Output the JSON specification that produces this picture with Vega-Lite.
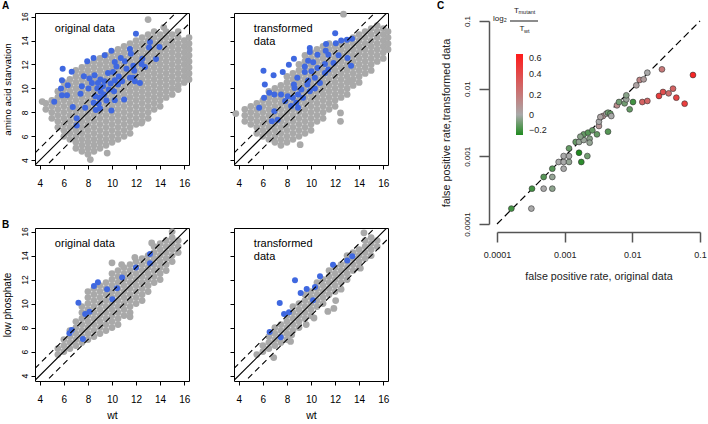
{
"$schema":"https://vega.github.io/schema/vega-lite/v6.json",
"background":"white",
"padding":{"left":1,"top":0,"right":0,"bottom":0},
"config":{
"font":"Liberation Sans",
"view":{"stroke":"black","strokeWidth":1},
"axis":{"domain":false,"grid":false,"tickColor":"black","tickWidth":1,"labelColor":"black","titleColor":"black","titleFontWeight":"normal","labelFlush":false,"labelOverlap":false},
"title":{"fontSize":10,"fontWeight":"bold","anchor":"start","frame":"group","color":"black","baseline":"bottom","offset":0}
},
"datasets":{
"a1g":[
{"x":4.5,"y":8.25},{"x":4.5,"y":8.75},
{"x":5,"y":7.5},{"x":5,"y":8},{"x":5,"y":8.5},{"x":5,"y":9},
{"x":5.5,"y":6.75},{"x":5.5,"y":7.25},{"x":5.5,"y":7.75},{"x":5.5,"y":8.25},{"x":5.5,"y":8.75},{"x":5.5,"y":9.25},{"x":5.5,"y":9.75},
{"x":6,"y":6},{"x":6,"y":6.5},{"x":6,"y":7},{"x":6,"y":7.5},{"x":6,"y":8},{"x":6,"y":8.5},{"x":6,"y":9},{"x":6,"y":9.5},{"x":6,"y":10},{"x":6,"y":10.5},
{"x":6.5,"y":5.75},{"x":6.5,"y":6.25},{"x":6.5,"y":6.75},{"x":6.5,"y":7.25},{"x":6.5,"y":7.75},{"x":6.5,"y":8.25},{"x":6.5,"y":8.75},{"x":6.5,"y":9.25},{"x":6.5,"y":9.75},{"x":6.5,"y":10.25},{"x":6.5,"y":10.75},
{"x":7,"y":5},{"x":7,"y":5.5},{"x":7,"y":6},{"x":7,"y":6.5},{"x":7,"y":7},{"x":7,"y":7.5},{"x":7,"y":8},{"x":7,"y":8.5},{"x":7,"y":9},{"x":7,"y":9.5},{"x":7,"y":10},{"x":7,"y":10.5},{"x":7,"y":11},{"x":7,"y":11.5},
{"x":7.5,"y":4.75},{"x":7.5,"y":5.25},{"x":7.5,"y":5.75},{"x":7.5,"y":6.25},{"x":7.5,"y":6.75},{"x":7.5,"y":7.25},{"x":7.5,"y":7.75},{"x":7.5,"y":8.25},{"x":7.5,"y":8.75},{"x":7.5,"y":9.25},{"x":7.5,"y":9.75},{"x":7.5,"y":10.25},{"x":7.5,"y":10.75},{"x":7.5,"y":11.25},{"x":7.5,"y":11.75},
{"x":8,"y":4.5},{"x":8,"y":5},{"x":8,"y":5.5},{"x":8,"y":6},{"x":8,"y":6.5},{"x":8,"y":7},{"x":8,"y":7.5},{"x":8,"y":8},{"x":8,"y":8.5},{"x":8,"y":9},{"x":8,"y":9.5},{"x":8,"y":10},{"x":8,"y":10.5},{"x":8,"y":11},{"x":8,"y":11.5},{"x":8,"y":12},
{"x":8.5,"y":4.75},{"x":8.5,"y":5.25},{"x":8.5,"y":5.75},{"x":8.5,"y":6.25},{"x":8.5,"y":6.75},{"x":8.5,"y":7.25},{"x":8.5,"y":7.75},{"x":8.5,"y":8.25},{"x":8.5,"y":8.75},{"x":8.5,"y":9.25},{"x":8.5,"y":9.75},{"x":8.5,"y":10.25},{"x":8.5,"y":10.75},{"x":8.5,"y":11.25},{"x":8.5,"y":11.75},{"x":8.5,"y":12.25},
{"x":9,"y":5},{"x":9,"y":5.5},{"x":9,"y":6},{"x":9,"y":6.5},{"x":9,"y":7},{"x":9,"y":7.5},{"x":9,"y":8},{"x":9,"y":8.5},{"x":9,"y":9},{"x":9,"y":9.5},{"x":9,"y":10},{"x":9,"y":10.5},{"x":9,"y":11},{"x":9,"y":11.5},{"x":9,"y":12},{"x":9,"y":12.5},
{"x":9.5,"y":5.25},{"x":9.5,"y":5.75},{"x":9.5,"y":6.25},{"x":9.5,"y":6.75},{"x":9.5,"y":7.25},{"x":9.5,"y":7.75},{"x":9.5,"y":8.25},{"x":9.5,"y":8.75},{"x":9.5,"y":9.25},{"x":9.5,"y":9.75},{"x":9.5,"y":10.25},{"x":9.5,"y":10.75},{"x":9.5,"y":11.25},{"x":9.5,"y":11.75},{"x":9.5,"y":12.25},{"x":9.5,"y":12.75},
{"x":10,"y":5.5},{"x":10,"y":6},{"x":10,"y":6.5},{"x":10,"y":7},{"x":10,"y":7.5},{"x":10,"y":8},{"x":10,"y":8.5},{"x":10,"y":9},{"x":10,"y":9.5},{"x":10,"y":10},{"x":10,"y":10.5},{"x":10,"y":11},{"x":10,"y":11.5},{"x":10,"y":12},{"x":10,"y":12.5},{"x":10,"y":13},
{"x":10.5,"y":5.75},{"x":10.5,"y":6.25},{"x":10.5,"y":6.75},{"x":10.5,"y":7.25},{"x":10.5,"y":7.75},{"x":10.5,"y":8.25},{"x":10.5,"y":8.75},{"x":10.5,"y":9.25},{"x":10.5,"y":9.75},{"x":10.5,"y":10.25},{"x":10.5,"y":10.75},{"x":10.5,"y":11.25},{"x":10.5,"y":11.75},{"x":10.5,"y":12.25},{"x":10.5,"y":12.75},{"x":10.5,"y":13.25},
{"x":11,"y":6},{"x":11,"y":6.5},{"x":11,"y":7},{"x":11,"y":7.5},{"x":11,"y":8},{"x":11,"y":8.5},{"x":11,"y":9},{"x":11,"y":9.5},{"x":11,"y":10},{"x":11,"y":10.5},{"x":11,"y":11},{"x":11,"y":11.5},{"x":11,"y":12},{"x":11,"y":12.5},{"x":11,"y":13},{"x":11,"y":13.5},
{"x":11.5,"y":6.25},{"x":11.5,"y":6.75},{"x":11.5,"y":7.25},{"x":11.5,"y":7.75},{"x":11.5,"y":8.25},{"x":11.5,"y":8.75},{"x":11.5,"y":9.25},{"x":11.5,"y":9.75},{"x":11.5,"y":10.25},{"x":11.5,"y":10.75},{"x":11.5,"y":11.25},{"x":11.5,"y":11.75},{"x":11.5,"y":12.25},{"x":11.5,"y":12.75},{"x":11.5,"y":13.25},{"x":11.5,"y":13.75},
{"x":12,"y":7},{"x":12,"y":7.5},{"x":12,"y":8},{"x":12,"y":8.5},{"x":12,"y":9},{"x":12,"y":9.5},{"x":12,"y":10},{"x":12,"y":10.5},{"x":12,"y":11},{"x":12,"y":11.5},{"x":12,"y":12},{"x":12,"y":12.5},{"x":12,"y":13},{"x":12,"y":13.5},{"x":12,"y":14},
{"x":12.5,"y":7.25},{"x":12.5,"y":7.75},{"x":12.5,"y":8.25},{"x":12.5,"y":8.75},{"x":12.5,"y":9.25},{"x":12.5,"y":9.75},{"x":12.5,"y":10.25},{"x":12.5,"y":10.75},{"x":12.5,"y":11.25},{"x":12.5,"y":11.75},{"x":12.5,"y":12.25},{"x":12.5,"y":12.75},{"x":12.5,"y":13.25},{"x":12.5,"y":13.75},{"x":12.5,"y":14.25},
{"x":13,"y":7.5},{"x":13,"y":8},{"x":13,"y":8.5},{"x":13,"y":9},{"x":13,"y":9.5},{"x":13,"y":10},{"x":13,"y":10.5},{"x":13,"y":11},{"x":13,"y":11.5},{"x":13,"y":12},{"x":13,"y":12.5},{"x":13,"y":13},{"x":13,"y":13.5},{"x":13,"y":14},{"x":13,"y":14.5},
{"x":13.5,"y":8.25},{"x":13.5,"y":8.75},{"x":13.5,"y":9.25},{"x":13.5,"y":9.75},{"x":13.5,"y":10.25},{"x":13.5,"y":10.75},{"x":13.5,"y":11.25},{"x":13.5,"y":11.75},{"x":13.5,"y":12.25},{"x":13.5,"y":12.75},{"x":13.5,"y":13.25},{"x":13.5,"y":13.75},{"x":13.5,"y":14.25},{"x":13.5,"y":14.75},
{"x":14,"y":8.5},{"x":14,"y":9},{"x":14,"y":9.5},{"x":14,"y":10},{"x":14,"y":10.5},{"x":14,"y":11},{"x":14,"y":11.5},{"x":14,"y":12},{"x":14,"y":12.5},{"x":14,"y":13},{"x":14,"y":13.5},{"x":14,"y":14},{"x":14,"y":14.5},
{"x":14.5,"y":9.25},{"x":14.5,"y":9.75},{"x":14.5,"y":10.25},{"x":14.5,"y":10.75},{"x":14.5,"y":11.25},{"x":14.5,"y":11.75},{"x":14.5,"y":12.25},{"x":14.5,"y":12.75},{"x":14.5,"y":13.25},{"x":14.5,"y":13.75},{"x":14.5,"y":14.25},{"x":14.5,"y":14.75},
{"x":15,"y":9.5},{"x":15,"y":10},{"x":15,"y":10.5},{"x":15,"y":11},{"x":15,"y":11.5},{"x":15,"y":12},{"x":15,"y":12.5},{"x":15,"y":13},{"x":15,"y":13.5},{"x":15,"y":14},{"x":15,"y":14.5},
{"x":15.5,"y":10.25},{"x":15.5,"y":10.75},{"x":15.5,"y":11.25},{"x":15.5,"y":11.75},{"x":15.5,"y":12.25},{"x":15.5,"y":12.75},{"x":15.5,"y":13.25},{"x":15.5,"y":13.75},{"x":15.5,"y":14.25},{"x":15.5,"y":14.75},
{"x":16,"y":10.5},{"x":16,"y":11},{"x":16,"y":11.5},{"x":16,"y":12},{"x":16,"y":12.5},{"x":16,"y":13},{"x":16,"y":13.5},{"x":16,"y":14},
{"x":16.4,"y":10.75},{"x":16.4,"y":11.25},{"x":16.4,"y":11.75},{"x":16.4,"y":12.25},{"x":16.4,"y":12.75},{"x":16.4,"y":13.25},{"x":16.4,"y":13.75},{"x":16.4,"y":14.25},
{"x":13,"y":15.75},{"x":12.45,"y":7.1},{"x":15.5,"y":9.9},{"x":4.2,"y":8.9},{"x":8.2,"y":4.05},{"x":9.6,"y":4.6},{"x":14.3,"y":15.1}
],
"a1b":[
{"x":11.99,"y":14.56},{"x":9.95,"y":13.15},{"x":9.39,"y":12.76},{"x":8.47,"y":12.54},{"x":7.94,"y":12.26},{"x":5.9,"y":11.65},{"x":6.65,"y":11.4},{"x":13.16,"y":13.87},{"x":13.08,"y":13.42},{"x":13.94,"y":13.45},{"x":13.66,"y":12.45},{"x":11.49,"y":13.29},{"x":11.57,"y":12.9},{"x":11.07,"y":12.26},{"x":10.23,"y":12.2},{"x":10.73,"y":12.54},{"x":10.37,"y":11.84},{"x":10.09,"y":11.37},{"x":11.2,"y":11.65},{"x":11.77,"y":11.9},{"x":11.85,"y":11.48},{"x":12.74,"y":11.79},{"x":12.52,"y":12.48},{"x":8.55,"y":11.1},{"x":8.13,"y":10.82},{"x":8.83,"y":10.46},{"x":9.39,"y":10.6},{"x":9.89,"y":10.4},{"x":10.23,"y":10.68},{"x":10.56,"y":11.0},{"x":10.84,"y":10.6},{"x":11.49,"y":10.88},{"x":11.9,"y":10.6},{"x":12.32,"y":10.46},{"x":5.84,"y":10.68},{"x":6.32,"y":10.27},{"x":5.76,"y":9.99},{"x":6.26,"y":9.43},{"x":5.84,"y":9.43},{"x":5.2,"y":8.88},{"x":7.49,"y":10.18},{"x":7.38,"y":9.55},{"x":8.05,"y":9.99},{"x":8.78,"y":9.99},{"x":9.06,"y":9.71},{"x":8.61,"y":9.35},{"x":8.97,"y":9.21},{"x":8.47,"y":8.8},{"x":9.34,"y":9.49},{"x":9.53,"y":8.99},{"x":9.73,"y":9.91},{"x":10.17,"y":9.77},{"x":10.23,"y":9.02},{"x":11.01,"y":9.07},{"x":7.77,"y":8.38},{"x":6.74,"y":8.44},{"x":8.66,"y":8.19},{"x":9.0,"y":8.33},{"x":9.95,"y":8.16},{"x":7.07,"y":7.5},{"x":7.07,"y":6.91},{"x":8.89,"y":8.71},{"x":9.25,"y":10.18},{"x":8.33,"y":10.46},{"x":7.66,"y":11.01},{"x":9.03,"y":10.74},{"x":9.67,"y":11.29},{"x":10.5,"y":10.32},{"x":11.77,"y":10.88},{"x":12.46,"y":12.04}
],
"a2g":[
{"x":3.75,"y":7.9},
{"x":4.5,"y":7.25},{"x":4.5,"y":7.75},{"x":4.5,"y":8.25},
{"x":5,"y":7},{"x":5,"y":7.5},{"x":5,"y":8},{"x":5,"y":8.5},
{"x":5.5,"y":6.25},{"x":5.5,"y":6.75},{"x":5.5,"y":7.25},{"x":5.5,"y":7.75},{"x":5.5,"y":8.25},{"x":5.5,"y":8.75},
{"x":6,"y":6},{"x":6,"y":6.5},{"x":6,"y":7},{"x":6,"y":7.5},{"x":6,"y":8},{"x":6,"y":8.5},{"x":6,"y":9},
{"x":6.5,"y":5.75},{"x":6.5,"y":6.25},{"x":6.5,"y":6.75},{"x":6.5,"y":7.25},{"x":6.5,"y":7.75},{"x":6.5,"y":8.25},{"x":6.5,"y":8.75},{"x":6.5,"y":9.25},{"x":6.5,"y":9.75},
{"x":7,"y":5.5},{"x":7,"y":6},{"x":7,"y":6.5},{"x":7,"y":7},{"x":7,"y":7.5},{"x":7,"y":8},{"x":7,"y":8.5},{"x":7,"y":9},{"x":7,"y":9.5},{"x":7,"y":10},
{"x":7.5,"y":5.25},{"x":7.5,"y":5.75},{"x":7.5,"y":6.25},{"x":7.5,"y":6.75},{"x":7.5,"y":7.25},{"x":7.5,"y":7.75},{"x":7.5,"y":8.25},{"x":7.5,"y":8.75},{"x":7.5,"y":9.25},{"x":7.5,"y":9.75},{"x":7.5,"y":10.25},
{"x":8,"y":5.5},{"x":8,"y":6},{"x":8,"y":6.5},{"x":8,"y":7},{"x":8,"y":7.5},{"x":8,"y":8},{"x":8,"y":8.5},{"x":8,"y":9},{"x":8,"y":9.5},{"x":8,"y":10},{"x":8,"y":10.5},{"x":8,"y":11},
{"x":8.5,"y":5.75},{"x":8.5,"y":6.25},{"x":8.5,"y":6.75},{"x":8.5,"y":7.25},{"x":8.5,"y":7.75},{"x":8.5,"y":8.25},{"x":8.5,"y":8.75},{"x":8.5,"y":9.25},{"x":8.5,"y":9.75},{"x":8.5,"y":10.25},{"x":8.5,"y":10.75},{"x":8.5,"y":11.25},
{"x":9,"y":6},{"x":9,"y":6.5},{"x":9,"y":7},{"x":9,"y":7.5},{"x":9,"y":8},{"x":9,"y":8.5},{"x":9,"y":9},{"x":9,"y":9.5},{"x":9,"y":10},{"x":9,"y":10.5},{"x":9,"y":11},{"x":9,"y":11.5},{"x":9,"y":12},
{"x":9.5,"y":6.25},{"x":9.5,"y":6.75},{"x":9.5,"y":7.25},{"x":9.5,"y":7.75},{"x":9.5,"y":8.25},{"x":9.5,"y":8.75},{"x":9.5,"y":9.25},{"x":9.5,"y":9.75},{"x":9.5,"y":10.25},{"x":9.5,"y":10.75},{"x":9.5,"y":11.25},{"x":9.5,"y":11.75},{"x":9.5,"y":12.25},{"x":9.5,"y":12.75},
{"x":10,"y":6.5},{"x":10,"y":7},{"x":10,"y":7.5},{"x":10,"y":8},{"x":10,"y":8.5},{"x":10,"y":9},{"x":10,"y":9.5},{"x":10,"y":10},{"x":10,"y":10.5},{"x":10,"y":11},{"x":10,"y":11.5},{"x":10,"y":12},{"x":10,"y":12.5},{"x":10,"y":13},
{"x":10.5,"y":7.25},{"x":10.5,"y":7.75},{"x":10.5,"y":8.25},{"x":10.5,"y":8.75},{"x":10.5,"y":9.25},{"x":10.5,"y":9.75},{"x":10.5,"y":10.25},{"x":10.5,"y":10.75},{"x":10.5,"y":11.25},{"x":10.5,"y":11.75},{"x":10.5,"y":12.25},{"x":10.5,"y":12.75},{"x":10.5,"y":13.25},
{"x":11,"y":7.5},{"x":11,"y":8},{"x":11,"y":8.5},{"x":11,"y":9},{"x":11,"y":9.5},{"x":11,"y":10},{"x":11,"y":10.5},{"x":11,"y":11},{"x":11,"y":11.5},{"x":11,"y":12},{"x":11,"y":12.5},{"x":11,"y":13},{"x":11,"y":13.5},
{"x":11.5,"y":8.25},{"x":11.5,"y":8.75},{"x":11.5,"y":9.25},{"x":11.5,"y":9.75},{"x":11.5,"y":10.25},{"x":11.5,"y":10.75},{"x":11.5,"y":11.25},{"x":11.5,"y":11.75},{"x":11.5,"y":12.25},{"x":11.5,"y":12.75},{"x":11.5,"y":13.25},{"x":11.5,"y":13.75},
{"x":12,"y":8.5},{"x":12,"y":9},{"x":12,"y":9.5},{"x":12,"y":10},{"x":12,"y":10.5},{"x":12,"y":11},{"x":12,"y":11.5},{"x":12,"y":12},{"x":12,"y":12.5},{"x":12,"y":13},{"x":12,"y":13.5},
{"x":12.5,"y":9.25},{"x":12.5,"y":9.75},{"x":12.5,"y":10.25},{"x":12.5,"y":10.75},{"x":12.5,"y":11.25},{"x":12.5,"y":11.75},{"x":12.5,"y":12.25},{"x":12.5,"y":12.75},{"x":12.5,"y":13.25},{"x":12.5,"y":13.75},
{"x":13,"y":9.5},{"x":13,"y":10},{"x":13,"y":10.5},{"x":13,"y":11},{"x":13,"y":11.5},{"x":13,"y":12},{"x":13,"y":12.5},{"x":13,"y":13},{"x":13,"y":13.5},{"x":13,"y":14},
{"x":13.5,"y":10.25},{"x":13.5,"y":10.75},{"x":13.5,"y":11.25},{"x":13.5,"y":11.75},{"x":13.5,"y":12.25},{"x":13.5,"y":12.75},{"x":13.5,"y":13.25},{"x":13.5,"y":13.75},{"x":13.5,"y":14.25},
{"x":14,"y":10.5},{"x":14,"y":11},{"x":14,"y":11.5},{"x":14,"y":12},{"x":14,"y":12.5},{"x":14,"y":13},{"x":14,"y":13.5},{"x":14,"y":14},{"x":14,"y":14.5},
{"x":14.5,"y":11.25},{"x":14.5,"y":11.75},{"x":14.5,"y":12.25},{"x":14.5,"y":12.75},{"x":14.5,"y":13.25},{"x":14.5,"y":13.75},{"x":14.5,"y":14.25},{"x":14.5,"y":14.75},
{"x":15,"y":11.5},{"x":15,"y":12},{"x":15,"y":12.5},{"x":15,"y":13},{"x":15,"y":13.5},{"x":15,"y":14},{"x":15,"y":14.5},{"x":15,"y":15},
{"x":15.5,"y":12.25},{"x":15.5,"y":12.75},{"x":15.5,"y":13.25},{"x":15.5,"y":13.75},{"x":15.5,"y":14.25},{"x":15.5,"y":14.75},{"x":15.5,"y":15.25},
{"x":16,"y":12.5},{"x":16,"y":13},{"x":16,"y":13.5},{"x":16,"y":14},{"x":16,"y":14.5},{"x":16,"y":15},
{"x":16.4,"y":13.25},{"x":16.4,"y":13.75},{"x":16.4,"y":14.25},{"x":16.4,"y":14.75},
{"x":12.7,"y":16.2},{"x":12.45,"y":7.25},{"x":12.45,"y":7.95},{"x":13.3,"y":10.6},{"x":9.1,"y":5.3}
],
"a2b":[
{"x":12.01,"y":14.61},{"x":12.51,"y":14.0},{"x":12.99,"y":14.06},{"x":13.41,"y":14.14},{"x":11.25,"y":13.7},{"x":12.06,"y":13.78},{"x":9.9,"y":13.37},{"x":9.9,"y":13.04},{"x":10.54,"y":12.81},{"x":11.22,"y":13.15},{"x":11.44,"y":12.81},{"x":12.29,"y":12.76},{"x":13.04,"y":12.54},{"x":13.33,"y":11.9},{"x":9.76,"y":12.32},{"x":10.18,"y":12.18},{"x":11.16,"y":12.04},{"x":11.87,"y":12.12},{"x":8.58,"y":12.48},{"x":8.16,"y":11.98},{"x":6.05,"y":11.48},{"x":6.89,"y":11.1},{"x":7.65,"y":11.37},{"x":8.86,"y":10.88},{"x":9.48,"y":11.37},{"x":10.04,"y":11.43},{"x":10.54,"y":11.71},{"x":11.16,"y":11.29},{"x":11.44,"y":11.57},{"x":10.32,"y":10.88},{"x":9.76,"y":10.65},{"x":6.16,"y":10.32},{"x":6.53,"y":9.63},{"x":6.1,"y":9.21},{"x":6.95,"y":9.49},{"x":7.51,"y":9.49},{"x":5.69,"y":8.38},{"x":8.63,"y":10.04},{"x":9.2,"y":9.91},{"x":9.9,"y":9.77},{"x":10.32,"y":9.99},{"x":8.07,"y":9.35},{"x":8.49,"y":9.21},{"x":8.92,"y":9.49},{"x":9.34,"y":9.21},{"x":8.78,"y":8.8},{"x":8.35,"y":8.52},{"x":8.92,"y":8.38},{"x":7.85,"y":8.94},{"x":6.95,"y":8.1},{"x":6.75,"y":7.25},{"x":7.23,"y":7.38},{"x":9.7,"y":10.32},{"x":10.74,"y":10.46},{"x":8.58,"y":10.32},{"x":9.48,"y":11.84}
],
"b1g":[
{"x":5.5,"y":5.75},{"x":5.5,"y":6.25},
{"x":6,"y":6},{"x":6,"y":6.5},{"x":6,"y":7},
{"x":6.5,"y":6.25},{"x":6.5,"y":6.75},{"x":6.5,"y":7.25},{"x":6.5,"y":7.75},
{"x":7,"y":6.5},{"x":7,"y":7},{"x":7,"y":7.5},{"x":7,"y":8},{"x":7,"y":8.5},
{"x":7.5,"y":6.75},{"x":7.5,"y":7.25},{"x":7.5,"y":7.75},{"x":7.5,"y":8.25},{"x":7.5,"y":8.75},{"x":7.5,"y":9.25},{"x":7.5,"y":9.75},
{"x":8,"y":7},{"x":8,"y":7.5},{"x":8,"y":8},{"x":8,"y":8.5},{"x":8,"y":9},{"x":8,"y":9.5},{"x":8,"y":10},{"x":8,"y":10.5},{"x":8,"y":11},
{"x":8.5,"y":7.25},{"x":8.5,"y":7.75},{"x":8.5,"y":8.25},{"x":8.5,"y":8.75},{"x":8.5,"y":9.25},{"x":8.5,"y":9.75},{"x":8.5,"y":10.25},{"x":8.5,"y":10.75},{"x":8.5,"y":11.25},
{"x":9,"y":7.5},{"x":9,"y":8},{"x":9,"y":8.5},{"x":9,"y":9},{"x":9,"y":9.5},{"x":9,"y":10},{"x":9,"y":10.5},{"x":9,"y":11},{"x":9,"y":11.5},
{"x":9.5,"y":7.75},{"x":9.5,"y":8.25},{"x":9.5,"y":8.75},{"x":9.5,"y":9.25},{"x":9.5,"y":9.75},{"x":9.5,"y":10.25},{"x":9.5,"y":10.75},{"x":9.5,"y":11.25},{"x":9.5,"y":11.75},
{"x":10,"y":8},{"x":10,"y":8.5},{"x":10,"y":9},{"x":10,"y":9.5},{"x":10,"y":10},{"x":10,"y":10.5},{"x":10,"y":11},{"x":10,"y":11.5},{"x":10,"y":12},{"x":10,"y":12.5},
{"x":10.5,"y":8.25},{"x":10.5,"y":8.75},{"x":10.5,"y":9.25},{"x":10.5,"y":9.75},{"x":10.5,"y":10.25},{"x":10.5,"y":10.75},{"x":10.5,"y":11.25},{"x":10.5,"y":11.75},{"x":10.5,"y":12.25},{"x":10.5,"y":12.75},
{"x":11,"y":9},{"x":11,"y":9.5},{"x":11,"y":10},{"x":11,"y":10.5},{"x":11,"y":11},{"x":11,"y":11.5},{"x":11,"y":12},{"x":11,"y":12.5},{"x":11,"y":13},
{"x":11.5,"y":9.25},{"x":11.5,"y":9.75},{"x":11.5,"y":10.25},{"x":11.5,"y":10.75},{"x":11.5,"y":11.25},{"x":11.5,"y":11.75},{"x":11.5,"y":12.25},{"x":11.5,"y":12.75},{"x":11.5,"y":13.25},
{"x":12,"y":10},{"x":12,"y":10.5},{"x":12,"y":11},{"x":12,"y":11.5},{"x":12,"y":12},{"x":12,"y":12.5},{"x":12,"y":13},{"x":12,"y":13.5},
{"x":12.5,"y":10.25},{"x":12.5,"y":10.75},{"x":12.5,"y":11.25},{"x":12.5,"y":11.75},{"x":12.5,"y":12.25},{"x":12.5,"y":12.75},{"x":12.5,"y":13.25},{"x":12.5,"y":13.75},
{"x":13,"y":11},{"x":13,"y":11.5},{"x":13,"y":12},{"x":13,"y":12.5},{"x":13,"y":13},{"x":13,"y":13.5},{"x":13,"y":14},
{"x":13.5,"y":11.75},{"x":13.5,"y":12.25},{"x":13.5,"y":12.75},{"x":13.5,"y":13.25},{"x":13.5,"y":13.75},{"x":13.5,"y":14.25},{"x":13.5,"y":14.75},
{"x":14,"y":12},{"x":14,"y":12.5},{"x":14,"y":13},{"x":14,"y":13.5},{"x":14,"y":14},{"x":14,"y":14.5},{"x":14,"y":15},
{"x":14.5,"y":12.75},{"x":14.5,"y":13.25},{"x":14.5,"y":13.75},{"x":14.5,"y":14.25},{"x":14.5,"y":14.75},{"x":14.5,"y":15.25},
{"x":15,"y":13.5},{"x":15,"y":14},{"x":15,"y":14.5},{"x":15,"y":15},{"x":15,"y":15.5},
{"x":15.5,"y":14.25},{"x":15.5,"y":14.75},{"x":15.5,"y":15.25},
{"x":15,"y":16},{"x":13.3,"y":15.05},{"x":10,"y":13.4},{"x":10.8,"y":13.25},{"x":11.9,"y":13.85},{"x":11.5,"y":8.9}
],
"b1b":[
{"x":13.16,"y":14.14},{"x":13.16,"y":13.36},{"x":11.99,"y":13.0},{"x":10.84,"y":12.17},{"x":8.83,"y":11.78},{"x":8.5,"y":11.47},{"x":9.59,"y":11.19},{"x":10.42,"y":11.28},{"x":10.03,"y":10.36},{"x":7.21,"y":10.08},{"x":8.13,"y":9.33},{"x":7.77,"y":9.14},{"x":6.65,"y":7.81},{"x":6.46,"y":7.53},{"x":7.58,"y":7.06}
],
"b2g":[
{"x":5.5,"y":5.75},
{"x":6,"y":6},{"x":6,"y":6.5},
{"x":6.5,"y":6.25},{"x":6.5,"y":6.75},{"x":6.5,"y":7.25},
{"x":7,"y":6.5},{"x":7,"y":7},{"x":7,"y":7.5},{"x":7,"y":8},
{"x":7.5,"y":6.75},{"x":7.5,"y":7.25},{"x":7.5,"y":7.75},{"x":7.5,"y":8.25},
{"x":8,"y":7},{"x":8,"y":7.5},{"x":8,"y":8},{"x":8,"y":8.5},{"x":8,"y":9},
{"x":8.5,"y":7.75},{"x":8.5,"y":8.25},{"x":8.5,"y":8.75},{"x":8.5,"y":9.25},{"x":8.5,"y":9.75},
{"x":9,"y":8},{"x":9,"y":8.5},{"x":9,"y":9},{"x":9,"y":9.5},{"x":9,"y":10},
{"x":9.5,"y":8.75},{"x":9.5,"y":9.25},{"x":9.5,"y":9.75},{"x":9.5,"y":10.25},{"x":9.5,"y":10.75},
{"x":10,"y":9},{"x":10,"y":9.5},{"x":10,"y":10},{"x":10,"y":10.5},{"x":10,"y":11},
{"x":10.5,"y":9.75},{"x":10.5,"y":10.25},{"x":10.5,"y":10.75},{"x":10.5,"y":11.25},{"x":10.5,"y":11.75},
{"x":11,"y":10},{"x":11,"y":10.5},{"x":11,"y":11},{"x":11,"y":11.5},{"x":11,"y":12},
{"x":11.5,"y":10.75},{"x":11.5,"y":11.25},{"x":11.5,"y":11.75},{"x":11.5,"y":12.25},{"x":11.5,"y":12.75},
{"x":12,"y":11},{"x":12,"y":11.5},{"x":12,"y":12},{"x":12,"y":12.5},{"x":12,"y":13},
{"x":12.5,"y":11.75},{"x":12.5,"y":12.25},{"x":12.5,"y":12.75},{"x":12.5,"y":13.25},
{"x":13,"y":12},{"x":13,"y":12.5},{"x":13,"y":13},{"x":13,"y":13.5},{"x":13,"y":14},
{"x":13.5,"y":12.75},{"x":13.5,"y":13.25},{"x":13.5,"y":13.75},{"x":13.5,"y":14.25},
{"x":14,"y":13},{"x":14,"y":13.5},{"x":14,"y":14},{"x":14,"y":14.5},
{"x":14.5,"y":13.75},{"x":14.5,"y":14.25},{"x":14.5,"y":14.75},{"x":14.5,"y":15.25},
{"x":15,"y":14},{"x":15,"y":14.5},{"x":15,"y":15},{"x":15,"y":15.5},
{"x":15.5,"y":14.75},{"x":15.5,"y":15.25},
{"x":14.4,"y":15.9},{"x":8.4,"y":7.4},{"x":9.6,"y":8.25},{"x":11.4,"y":9.35},{"x":11.9,"y":9.6},{"x":12.5,"y":11.2},{"x":14.1,"y":12.95},{"x":10.25,"y":8.8},{"x":6.9,"y":5.5},{"x":8.3,"y":6.85},{"x":12.05,"y":10.25}
],
"b2b":[
{"x":13.43,"y":13.94},{"x":13.02,"y":13.6},{"x":11.83,"y":13.24},{"x":10.75,"y":12.27},{"x":8.67,"y":11.94},{"x":10.33,"y":11.38},{"x":9.64,"y":11.22},{"x":9.14,"y":10.88},{"x":10.17,"y":10.27},{"x":7.4,"y":10.05},{"x":7.76,"y":9.13},{"x":8.17,"y":9.27},{"x":6.56,"y":7.63},{"x":7.48,"y":7.19}
],
"diag":[{"x":3,"y":3,"x2":17,"y2":17}],
"dash":[{"x":3,"y":4,"x2":17,"y2":18},{"x":3,"y":2,"x2":17,"y2":16}],
"lorig":[{"x":5.25,"y":15.46,"t":"original data"}],
"ltrans":[{"x":5.25,"y":15.46,"t":"transformed\ndata"}],
"c":[
{"x":0.000163,"y":0.000169,"v":-0.15},{"x":0.000322,"y":0.000169,"v":0},{"x":0.000329,"y":0.000333,"v":-0.15},{"x":0.000489,"y":0.000333,"v":0},{"x":0.000657,"y":0.000333,"v":-0.04},{"x":0.000489,"y":0.000495,"v":-0.12},{"x":0.000657,"y":0.000495,"v":-0.03},{"x":0.000657,"y":0.000657,"v":-0.12},{"x":0.000815,"y":0.000825,"v":0},{"x":0.000966,"y":0.000657,"v":0},{"x":0.000966,"y":0.000825,"v":0},{"x":0.001159,"y":0.000825,"v":-0.03},{"x":0.000966,"y":0.00101,"v":0},{"x":0.001159,"y":0.00101,"v":0},{"x":0.001159,"y":0.001313,"v":-0.1},{"x":0.00163,"y":0.00113,"v":-0.2},{"x":0.001762,"y":0.000825,"v":-0.18},{"x":0.002163,"y":0.00101,"v":-0.08},{"x":0.001454,"y":0.00163,"v":-0.1},{"x":0.00163,"y":0.00163,"v":-0.03},{"x":0.00191,"y":0.001743,"v":-0.02},{"x":0.00191,"y":0.002114,"v":-0.1},{"x":0.002213,"y":0.002238,"v":-0.12},{"x":0.002338,"y":0.001824,"v":-0.05},{"x":0.002338,"y":0.001592,"v":-0.03},{"x":0.002565,"y":0.00242,"v":-0.1},{"x":0.003,"y":0.002114,"v":-0.1},{"x":0.00321,"y":0.002807,"v":0.08},{"x":0.00321,"y":0.00325,"v":0},{"x":0.00368,"y":0.00394,"v":0.1},{"x":0.00413,"y":0.00427,"v":0.02},{"x":0.00437,"y":0.00442,"v":-0.08},{"x":0.00473,"y":0.00427,"v":-0.1},{"x":0.00489,"y":0.00394,"v":0},{"x":0.00437,"y":0.002317,"v":-0.12},{"x":0.00593,"y":0.00567,"v":0.12},{"x":0.00635,"y":0.00635,"v":-0.08},{"x":0.0077,"y":0.00607,"v":-0.08},{"x":0.00815,"y":0.00696,"v":-0.02},{"x":0.00815,"y":0.00798,"v":-0.05},{"x":0.00913,"y":0.00495,"v":-0.1},{"x":0.01023,"y":0.00635,"v":-0.15},{"x":0.01146,"y":0.0112,"v":0.03},{"x":0.01282,"y":0.01343,"v":0.15},{"x":0.0147,"y":0.01374,"v":0.05},{"x":0.01667,"y":0.01723,"v":0},{"x":0.01405,"y":0.00635,"v":0.3},{"x":0.01667,"y":0.00658,"v":0.28},{"x":0.02477,"y":0.0078,"v":0.45},{"x":0.0284,"y":0.00893,"v":0.38},{"x":0.0344,"y":0.00853,"v":0.25},{"x":0.0399,"y":0.01,"v":0.3},{"x":0.0447,"y":0.00736,"v":0.42},{"x":0.0593,"y":0.006,"v":0.45},{"x":0.0787,"y":0.01592,"v":0.55},{"x":0.0274,"y":0.0193,"v":0.2},{"x":0.001704,"y":0.001954,"v":-0.05},{"x":0.00337,"y":0.00381,"v":0.02}
],
"cdiag":[{"x":0.0001,"y":0.0001,"x2":0.1,"y2":0.1}],
"cfrac":[{"x":0.0001556,"x2":0.000404,"y":0.1}],
"cbig":[{"x":0.0000873,"y":0.108,"t":"log₂"},{"x":0.0001783,"y":0.1419,"t":"T"},{"x":0.000215,"y":0.0754,"t":"T"}],
"csmall":[{"x":0.000208,"y":0.1345,"t":"mutant"},{"x":0.0002506,"y":0.0705,"t":"wt"}]
},
"columns":3,
"spacing":{"row":63,"column":45},
"bounds":"flush",
"concat":[
{
"width":154,"height":152,
"title":{"text":"A","dx":-33,"dy":3.5},
"encoding":{
"x":{"field":"x","type":"quantitative","scale":{"domain":[3.6,16.4],"nice":false,"zero":false},"axis":{"values":[4,6,8,10,12,14,16],"title":null,"labelFontSize":10,"labelPadding":9,"tickSize":4}},
"y":{"field":"y","type":"quantitative","scale":{"domain":[3.6,16.3],"nice":false,"zero":false},"axis":{"values":[4,6,8,10,12,14,16],"title":"amino acid starvation","labelAngle":-90,"labelAlign":"center","labelBaseline":"bottom","labelFontSize":8.5,"labelPadding":2,"tickSize":4,"titleFontSize":9.8,"titlePadding":8}}
},
"layer":[
{"data":{"name":"a1g"},"mark":{"type":"circle","color":"#a9a9a9","size":46,"opacity":1}},
{"data":{"name":"a1b"},"mark":{"type":"circle","color":"#3f68e0","size":36,"opacity":1}},
{"data":{"name":"diag"},"mark":{"type":"rule","color":"black","strokeWidth":1.1,"clip":true},"encoding":{"x2":{"field":"x2"},"y2":{"field":"y2"}}},
{"data":{"name":"dash"},"mark":{"type":"rule","color":"black","strokeWidth":1.1,"strokeDash":[6,4],"clip":true},"encoding":{"x2":{"field":"x2"},"y2":{"field":"y2"}}},
{"data":{"name":"lorig"},"mark":{"type":"text","align":"left","baseline":"top","fontSize":11,"color":"black"},"encoding":{"text":{"field":"t"}}}
]
},
{
"width":154,"height":152,
"encoding":{
"x":{"field":"x","type":"quantitative","scale":{"domain":[3.6,16.4],"nice":false,"zero":false},"axis":{"values":[4,6,8,10,12,14,16],"title":null,"labelFontSize":10,"labelPadding":9,"tickSize":4}},
"y":{"field":"y","type":"quantitative","scale":{"domain":[3.6,16.3],"nice":false,"zero":false},"axis":{"values":[4,6,8,10,12,14,16],"title":null,"labels":false,"tickSize":4}}
},
"layer":[
{"data":{"name":"a2g"},"mark":{"type":"circle","color":"#a9a9a9","size":46,"opacity":1}},
{"data":{"name":"a2b"},"mark":{"type":"circle","color":"#3f68e0","size":36,"opacity":1}},
{"data":{"name":"diag"},"mark":{"type":"rule","color":"black","strokeWidth":1.1,"clip":true},"encoding":{"x2":{"field":"x2"},"y2":{"field":"y2"}}},
{"data":{"name":"dash"},"mark":{"type":"rule","color":"black","strokeWidth":1.1,"strokeDash":[6,4],"clip":true},"encoding":{"x2":{"field":"x2"},"y2":{"field":"y2"}}},
{"data":{"name":"ltrans"},"mark":{"type":"text","align":"left","baseline":"top","fontSize":11,"color":"black","lineBreak":"\n","lineHeight":13},"encoding":{"text":{"field":"t"}}}
]
},
{
"width":267,"height":152,
"view":{"stroke":null},
"title":{"text":"C","dx":4,"dy":8},
"encoding":{
"x":{"field":"x","type":"quantitative","scale":{"type":"log","domain":[0.0001,0.1],"range":[64,267],"nice":false},"axis":{"values":[0.0001,0.001,0.01,0.1],"format":"~g","title":"false positive rate, original data","offset":67,"domain":true,"domainColor":"#555","domainWidth":1.5,"tickColor":"#555","tickWidth":1.5,"tickSize":10,"labelFontSize":9,"labelPadding":8,"labelColor":"#222","titleFontSize":10.7,"titlePadding":12,"titleColor":"#222"}},
"y":{"field":"y","type":"quantitative","scale":{"type":"log","domain":[0.0001,0.1],"range":[211,8],"nice":false},"axis":{"values":[0.0001,0.001,0.01,0.1],"format":"~g","title":"false positive rate,transformed data","offset":-56,"domain":true,"domainColor":"#555","domainWidth":1.5,"tickColor":"#555","tickWidth":1.5,"tickSize":10,"labelAngle":-90,"labelAlign":"center","labelBaseline":"bottom","labelFontSize":8,"labelPadding":8,"labelColor":"#222","titleFontSize":10.8,"titlePadding":12,"titleColor":"#222"}}
},
"layer":[
{"data":{"name":"cdiag"},"mark":{"type":"rule","color":"black","strokeWidth":1.2,"strokeDash":[7,4]},"encoding":{"x2":{"field":"x2"},"y2":{"field":"y2"}}},
{"data":{"name":"c"},"mark":{"type":"circle","size":34,"opacity":1,"stroke":"#333","strokeWidth":0.6},"encoding":{"color":{"field":"v","type":"quantitative","scale":{"domain":[-0.2,0,0.6],"range":["#1f8a1f","#a9a9a9","#ff1a1a"],"interpolate":"rgb"},"legend":{"title":null,"orient":"none","legendX":481,"legendY":41,"direction":"vertical","gradientLength":81,"gradientThickness":7,"values":[-0.2,0,0.2,0.4,0.6],"format":"~g","labelFontSize":9,"labelOffset":6,"labelColor":"#222","gradientStrokeWidth":0,"labelBaseline":"middle"}}}},
{"data":{"name":"cfrac"},"mark":{"type":"rule","color":"#666","strokeWidth":1.5},"encoding":{"x2":{"field":"x2"}}},
{"data":{"name":"cbig"},"mark":{"type":"text","align":"left","baseline":"middle","fontSize":8,"color":"#222"},"encoding":{"text":{"field":"t"}}},
{"data":{"name":"csmall"},"mark":{"type":"text","align":"left","baseline":"middle","fontSize":5.5,"color":"#222"},"encoding":{"text":{"field":"t"}}}
]
},
{
"width":154,"height":153,
"title":{"text":"B","dx":-33,"dy":7},
"encoding":{
"x":{"field":"x","type":"quantitative","scale":{"domain":[3.6,16.4],"nice":false,"zero":false},"axis":{"values":[4,6,8,10,12,14,16],"title":"wt","labelFontSize":10,"labelPadding":9,"tickSize":4,"titleFontSize":10.5,"titlePadding":6}},
"y":{"field":"y","type":"quantitative","scale":{"domain":[3.55,16.3],"nice":false,"zero":false},"axis":{"values":[4,6,8,10,12,14,16],"title":"low phosphate","labelAngle":-90,"labelAlign":"center","labelBaseline":"bottom","labelFontSize":8.5,"labelPadding":2,"tickSize":4,"titleFontSize":10,"titlePadding":8}}
},
"layer":[
{"data":{"name":"b1g"},"mark":{"type":"circle","color":"#a9a9a9","size":46,"opacity":1}},
{"data":{"name":"b1b"},"mark":{"type":"circle","color":"#3f68e0","size":36,"opacity":1}},
{"data":{"name":"diag"},"mark":{"type":"rule","color":"black","strokeWidth":1.1,"clip":true},"encoding":{"x2":{"field":"x2"},"y2":{"field":"y2"}}},
{"data":{"name":"dash"},"mark":{"type":"rule","color":"black","strokeWidth":1.1,"strokeDash":[6,4],"clip":true},"encoding":{"x2":{"field":"x2"},"y2":{"field":"y2"}}},
{"data":{"name":"lorig"},"mark":{"type":"text","align":"left","baseline":"top","fontSize":11,"color":"black"},"encoding":{"text":{"field":"t"}}}
]
},
{
"width":154,"height":153,
"encoding":{
"x":{"field":"x","type":"quantitative","scale":{"domain":[3.6,16.4],"nice":false,"zero":false},"axis":{"values":[4,6,8,10,12,14,16],"title":"wt","labelFontSize":10,"labelPadding":9,"tickSize":4,"titleFontSize":10.5,"titlePadding":6}},
"y":{"field":"y","type":"quantitative","scale":{"domain":[3.55,16.3],"nice":false,"zero":false},"axis":{"values":[4,6,8,10,12,14,16],"title":null,"labels":false,"tickSize":4}}
},
"layer":[
{"data":{"name":"b2g"},"mark":{"type":"circle","color":"#a9a9a9","size":46,"opacity":1}},
{"data":{"name":"b2b"},"mark":{"type":"circle","color":"#3f68e0","size":36,"opacity":1}},
{"data":{"name":"diag"},"mark":{"type":"rule","color":"black","strokeWidth":1.1,"clip":true},"encoding":{"x2":{"field":"x2"},"y2":{"field":"y2"}}},
{"data":{"name":"dash"},"mark":{"type":"rule","color":"black","strokeWidth":1.1,"strokeDash":[6,4],"clip":true},"encoding":{"x2":{"field":"x2"},"y2":{"field":"y2"}}},
{"data":{"name":"ltrans"},"mark":{"type":"text","align":"left","baseline":"top","fontSize":11,"color":"black","lineBreak":"\n","lineHeight":13},"encoding":{"text":{"field":"t"}}}
]
}
]
}
